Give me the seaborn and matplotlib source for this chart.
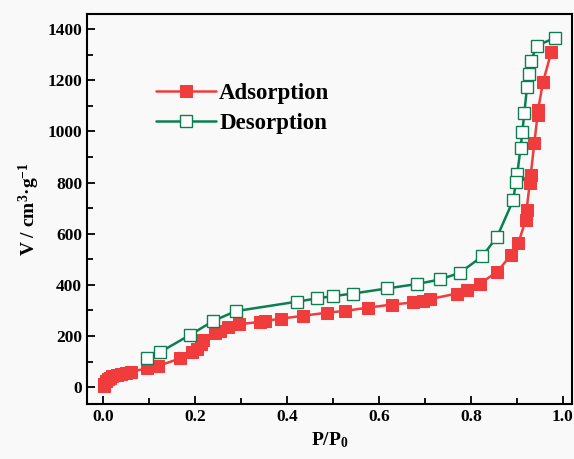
import matplotlib
matplotlib.use("Agg")
import matplotlib.pyplot as plt
from matplotlib.ticker import MultipleLocator
import seaborn as sns
import numpy as np

# Adsorption branch (P/P0, V)
ads_p = [0.001, 0.003, 0.006, 0.010, 0.015, 0.020, 0.030, 0.040, 0.050, 0.060,
         0.095, 0.120, 0.167, 0.193, 0.204, 0.212, 0.218, 0.243, 0.254, 0.272,
         0.296, 0.341, 0.352, 0.388, 0.435, 0.486, 0.526, 0.577, 0.628, 0.675,
         0.696, 0.711, 0.769, 0.791, 0.820, 0.857, 0.887, 0.903, 0.919, 0.921,
         0.928, 0.930, 0.938, 0.945, 0.946, 0.957, 0.975]
ads_v = [5, 14, 23, 31, 37, 42, 48, 53, 57, 60,
         73, 83, 112, 138, 151, 168, 184, 210, 220, 236,
         246, 255, 259, 268, 279, 291, 298, 311, 323, 331,
         337, 344, 366, 379, 405, 451, 516, 562, 653, 692,
         797, 829, 955, 1064, 1083, 1194, 1311]

# Desorption branch
des_p = [0.984, 0.944, 0.930, 0.926, 0.922, 0.916, 0.912, 0.908, 0.901, 0.898,
         0.892, 0.857, 0.825, 0.776, 0.733, 0.682, 0.618, 0.544, 0.501, 0.465,
         0.421, 0.288, 0.240, 0.188, 0.124, 0.095]
des_v = [1367, 1335, 1275, 1226, 1172, 1070, 998, 936, 835, 803,
         731, 588, 512, 447, 421, 403, 386, 366, 356, 347,
         334, 297, 259, 203, 137, 115]

red = "#f03c3c"
green = "#0b7f52"

sns.set_theme(style="ticks")
plt.rcParams["font.family"] = ["Liberation Serif", "DejaVu Serif"]
plt.rcParams["font.weight"] = "bold"
plt.rcParams["text.color"] = "black"
plt.rcParams["axes.labelcolor"] = "black"
plt.rcParams["mathtext.fontset"] = "custom"
plt.rcParams["mathtext.rm"] = "Liberation Serif:bold"
plt.rcParams["mathtext.it"] = "Liberation Serif:bold"
plt.rcParams["mathtext.bf"] = "Liberation Serif:bold"

fig = plt.figure(figsize=(5.74, 4.59), dpi=100, facecolor="#f9f9f9")
ax = fig.add_axes([0.1516, 0.1198, 0.845, 0.8497])
ax.set_facecolor("#f9f9f9")

sns.lineplot(x=ads_p, y=ads_v, ax=ax, sort=False, estimator=None, color=red,
             linewidth=1.8, marker="s", markersize=8.5, markeredgecolor=red,
             markerfacecolor=red, label="Adsorption")
sns.lineplot(x=des_p, y=des_v, ax=ax, sort=False, estimator=None, color=green,
             linewidth=1.8, marker="s", markersize=8.5, markeredgecolor=green,
             markerfacecolor="white", markeredgewidth=1.0, label="Desorption")

ax.set_xlim(-0.035, 1.02)
ax.set_ylim(-66, 1459)
ax.set_xticks(np.arange(0, 1.01, 0.2))
ax.set_yticks(np.arange(0, 1401, 200))
ax.xaxis.set_minor_locator(MultipleLocator(0.1))
ax.yaxis.set_minor_locator(MultipleLocator(100))
ax.tick_params(axis="both", which="both", direction="in", top=False, right=False,
               width=1.3, labelsize=12.5, colors="black", labelcolor="black")
ax.tick_params(axis="both", which="major", length=6)
ax.tick_params(axis="both", which="minor", length=4)
for lab in ax.get_xticklabels() + ax.get_yticklabels():
    lab.set_fontweight("bold")
for s in ax.spines.values():
    s.set_linewidth(1.5)
    s.set_color("black")

ax.set_xlabel("P/P$_{0}$", fontsize=14, fontweight="bold", labelpad=4, color="black")
ax.set_ylabel("V / cm$^{3}$·g$^{-1}$", fontsize=14, fontweight="bold", labelpad=4,
              color="black")

leg = ax.legend(loc="upper left", bbox_to_anchor=(0.1, 0.877), frameon=False,
                prop={"size": 16.5, "weight": "bold"}, handlelength=2.6,
                handletextpad=0.15, labelspacing=0.4)
for t in leg.get_texts():
    t.set_color("black")

fig.savefig("out.png", dpi=100, facecolor=fig.get_facecolor())
